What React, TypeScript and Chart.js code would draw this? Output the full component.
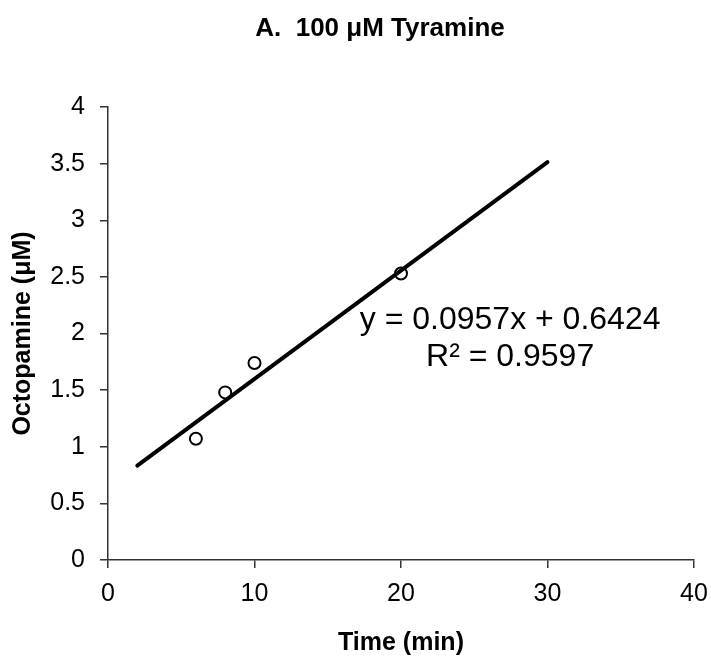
import { useEffect, useRef } from "react";
import { Chart, registerables } from "chart.js";

Chart.register(...registerables);

// ---- data ----
const timeMin = [6, 8, 10, 20];
const octopamine = [1.07, 1.48, 1.74, 2.53];
const trendX = [2, 30];
const trendY = [0.834, 3.513];
const xTickValues = [0, 10, 20, 30, 40];
const yTickValues = [0, 0.5, 1, 1.5, 2, 2.5, 3, 3.5, 4];
const chartTitle = "A.  100 μM Tyramine";
const xAxisTitle = "Time (min)";
const yAxisTitle = "Octopamine (μM)";
const equationLines = ["y = 0.0957x + 0.6424", "R² = 0.9597"];
const equationAnchorX = 27.45;
const equationAnchorY = [2.115, 1.79];

const FONT = "'Liberation Sans', Arial, sans-serif";

const textPlugin = {
  id: "textPlugin",
  afterDraw(chart: any) {
    const ctx = chart.ctx;
    const xs = chart.scales.x;
    const ys = chart.scales.y;
    ctx.save();
    ctx.fillStyle = "#000";
    ctx.textAlign = "center";
    ctx.textBaseline = "middle";
    ctx.font = `bold 26px ${FONT}`;
    ctx.fillText(chartTitle, 380, 29);
    ctx.font = `32px ${FONT}`;
    equationLines.forEach((line, i) => {
      ctx.fillText(line, xs.getPixelForValue(equationAnchorX), ys.getPixelForValue(equationAnchorY[i]));
    });
    ctx.restore();
  },
};

export default function App() {
  const ref = useRef<HTMLCanvasElement | null>(null);

  useEffect(() => {
    if (!ref.current) return;
    const chart = new Chart(ref.current, {
      type: "scatter",
      data: {
        datasets: [
          {
            label: "Trend",
            data: trendX.map((x, i) => ({ x, y: trendY[i] })),
            showLine: true,
            borderColor: "#000",
            borderWidth: 4,
            borderCapStyle: "round",
            pointRadius: 0,
            fill: false,
            order: 0,
          },
          {
            label: "Octopamine",
            data: timeMin.map((x, i) => ({ x, y: octopamine[i] })),
            showLine: false,
            pointStyle: "circle",
            pointRadius: 6,
            pointBorderWidth: 2,
            pointBorderColor: "#000",
            pointBackgroundColor: "#fff",
            order: 1,
          },
        ] as any,
      },
      options: {
        animation: false,
        responsive: false,
        maintainAspectRatio: false,
        layout: { padding: { top: 107, right: 17, left: 0, bottom: 0 } },
        plugins: {
          legend: { display: false },
          title: { display: false },
          tooltip: { enabled: false },
        },
        scales: {
          x: {
            type: "linear",
            min: 0,
            max: 40,
            afterBuildTicks: (s: any) => {
              s.ticks = xTickValues.map((v) => ({ value: v }));
            },
            afterFit: (s: any) => {
              s.height = 98;
              s.paddingLeft = 0;
              s.paddingRight = 0;
            },
            grid: {
              display: true,
              drawOnChartArea: false,
              drawTicks: true,
              tickLength: 8,
              color: "#333",
              lineWidth: 1.5,
            },
            border: { display: true, color: "#333", width: 1.5 },
            ticks: {
              color: "#000",
              font: { family: FONT, size: 25 },
              padding: 11,
              maxRotation: 0,
              callback: (v: any) => String(v),
            },
            title: {
              display: true,
              text: xAxisTitle,
              color: "#000",
              font: { family: FONT, size: 25, weight: "bold" },
              padding: { top: 0, bottom: 0 },
            },
          },
          y: {
            type: "linear",
            min: 0,
            max: 4,
            afterBuildTicks: (s: any) => {
              s.ticks = yTickValues.map((v) => ({ value: v }));
            },
            afterFit: (s: any) => {
              s.width = 108;
              s.paddingTop = 0;
              s.paddingBottom = 0;
            },
            grid: {
              display: true,
              drawOnChartArea: false,
              drawTicks: true,
              tickLength: 8,
              color: "#333",
              lineWidth: 1.5,
            },
            border: { display: true, color: "#333", width: 1.5 },
            ticks: {
              color: "#000",
              font: { family: FONT, size: 25 },
              padding: 15,
              callback: (v: any) => String(v),
            },
            title: {
              display: true,
              text: yAxisTitle,
              color: "#000",
              font: { family: FONT, size: 25, weight: "bold" },
              padding: { top: 8, bottom: 0 },
            },
          },
        },
      } as any,
      plugins: [textPlugin],
    });
    return () => chart.destroy();
  }, []);

  return (
    <canvas
      ref={ref}
      width={711}
      height={658}
      style={{ position: "fixed", left: 0, top: 0, width: 711, height: 658, background: "#fff" }}
    />
  );
}
